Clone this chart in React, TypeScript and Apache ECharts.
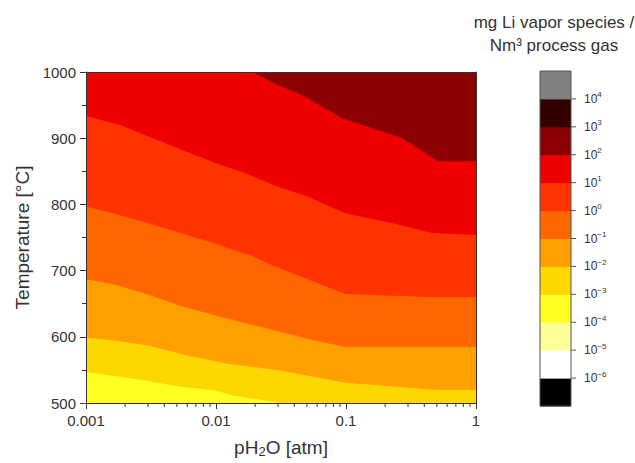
import React, { useEffect, useRef } from 'react';
import * as echarts from 'echarts';

// ---- axes / ticks ----
const xTickLabels = ['0.001', '0.01', '0.1', '1'];
const xMinorTicks = [
  0.002, 0.003, 0.004, 0.005, 0.006, 0.007, 0.008, 0.009,
  0.02, 0.03, 0.04, 0.05, 0.06, 0.07, 0.08, 0.09,
  0.2, 0.3, 0.4, 0.5, 0.6, 0.7, 0.8, 0.9,
];
const tempMin = 500;
const tempMax = 1000;

// ---- colour bar: lower exponent of each band (bottom to top) and its colour ----
const colorbarLower = [-7, -6, -5, -4, -3, -2, -1, 0, 1, 2, 3, 4];
const colorbarColors = [
  '#000000', '#ffffff', '#ffff99', '#ffff22', '#ffd700', '#ffa000',
  '#ff6600', '#ff3300', '#ee0000', '#8b0000', '#330000', '#808080',
];
const colorbarLabelExponents = [-6, -5, -4, -3, -2, -1, 0, 1, 2, 3, 4];

// ---- contour lines [pH2O (atm), T (°C)] ----
// 10^2 contour: dark red above it
const contour1e2 = [[0.0194, 1000], [0.0284, 983], [0.0457, 966], [0.069, 946], [0.093, 931], [0.132, 921], [0.27, 901], [0.51, 866], [1, 866]];
// 10^1 contour: red above, red-orange below
const contour1e1 = [[0.001, 933], [0.0019, 918], [0.0039, 893], [0.0095, 863], [0.017, 846], [0.028, 828], [0.051, 811], [0.098, 786], [0.225, 771], [0.46, 756], [1, 753]];
// 10^0 contour
const contour1e0 = [[0.001, 796], [0.0016, 786], [0.003, 771], [0.0053, 756], [0.0095, 741], [0.019, 721], [0.028, 706], [0.051, 686], [0.098, 664], [0.48, 659], [1, 659]];
// 10^-1 contour
const contour1em1 = [[0.001, 686], [0.0016, 679], [0.0029, 664], [0.0053, 646], [0.011, 629], [0.028, 609], [0.051, 596], [0.098, 584], [1, 584]];
// 10^-2 contour
const contour1em2 = [[0.001, 598], [0.0016, 594], [0.003, 586], [0.0063, 570], [0.0126, 558], [0.03, 549], [0.056, 539], [0.098, 530], [0.5, 519], [1, 519]];
// 10^-3 contour
const contour1em3 = [[0.001, 546], [0.0025, 535], [0.0053, 524], [0.01, 518], [0.013, 511], [0.03, 500]];

const FONT = "'Liberation Sans', Arial, sans-serif";
const TXT = '#333333';

function areaSeries(name: string, data: number[][], color: string, origin: 'start' | 'end') {
  return {
    name,
    type: 'line',
    xAxisIndex: 0,
    yAxisIndex: 0,
    data,
    symbol: 'none',
    silent: true,
    clip: true,
    lineStyle: { width: 1, color },
    areaStyle: { color, opacity: 1, origin },
    z: 2,
  };
}

export default function App() {
  const ref = useRef<HTMLDivElement>(null);
  useEffect(() => {
    if (!ref.current) return;
    const chart = echarts.init(ref.current, undefined, { renderer: 'svg' });
    const option: any = {
      animation: false,
      backgroundColor: '#ffffff',
      textStyle: { fontFamily: FONT },
      grid: [
        { left: 86, top: 72, width: 390, height: 334, show: true, backgroundColor: colorbarColors[8], borderWidth: 0 },
        { left: 540, top: 71, width: 31, height: 335, show: false },
      ],
      graphic: [
        {
          type: 'text',
          x: 554,
          y: 11,
          style: {
            text: 'mg Li vapor species /\nNm³ process gas',
            textAlign: 'center',
            fontSize: 17,
            lineHeight: 23,
            fontFamily: FONT,
            fill: TXT,
          },
        },
      ],
      xAxis: [
        {
          type: 'log',
          logBase: 10,
          gridIndex: 0,
          min: 0.001,
          max: 1,
          z: 10,
          axisLine: { show: true, lineStyle: { color: TXT, width: 1 } },
          axisTick: { show: true, length: 6, inside: false, lineStyle: { color: TXT } },
          axisLabel: {
            fontSize: 15,
            color: TXT,
            margin: 10,
            fontFamily: FONT,
            formatter: (v: number) => xTickLabels[Math.round(Math.log10(v)) + 3] ?? '',
          },
          splitLine: { show: false },
          name: 'pH{sub|2}O [atm]',
          nameLocation: 'middle',
          nameGap: 34,
          nameTextStyle: {
            fontSize: 19,
            color: TXT,
            lineHeight: 21,
            fontFamily: FONT,
            rich: { sub: { fontSize: 13, lineHeight: 13, padding: [8, 0, 0, 0], color: TXT, fontFamily: FONT } },
          },
        },
        {
          type: 'log',
          logBase: 10,
          gridIndex: 0,
          min: 0.001,
          max: 1,
          position: 'top',
          z: 10,
          axisLine: { show: true, lineStyle: { color: TXT, width: 1 } },
          axisTick: { show: false },
          axisLabel: { show: false },
          splitLine: { show: false },
        },
        { type: 'value', gridIndex: 1, min: 0, max: 1, show: false },
      ],
      yAxis: [
        {
          type: 'value',
          gridIndex: 0,
          min: tempMin,
          max: tempMax,
          interval: 100,
          z: 10,
          axisLine: { show: true, lineStyle: { color: TXT, width: 1 } },
          axisTick: { show: true, length: 6, inside: false, lineStyle: { color: TXT } },
          minorTick: { show: true, splitNumber: 2, length: 4, lineStyle: { color: TXT } },
          axisLabel: { fontSize: 15, color: TXT, margin: 10, fontFamily: FONT, formatter: (v: number) => String(v) },
          splitLine: { show: false },
          minorSplitLine: { show: false },
          name: 'Temperature [°C]',
          nameLocation: 'middle',
          nameGap: 52,
          nameTextStyle: { fontSize: 19, color: TXT, fontFamily: FONT },
        },
        {
          type: 'value',
          gridIndex: 0,
          min: tempMin,
          max: tempMax,
          position: 'right',
          z: 10,
          axisLine: { show: true, lineStyle: { color: TXT, width: 1 } },
          axisTick: { show: false },
          axisLabel: { show: false },
          splitLine: { show: false },
        },
        {
          type: 'value',
          gridIndex: 1,
          min: -7,
          max: 5,
          interval: 1,
          position: 'right',
          axisLine: { show: false },
          axisTick: { show: false },
          splitLine: { show: false },
          axisLabel: {
            margin: 13,
            color: TXT,
            fontSize: 12,
            lineHeight: 16,
            fontFamily: FONT,
            formatter: (v: number) => {
              if (!colorbarLabelExponents.includes(v)) return '';
              const e = v < 0 ? '\u2212' + Math.abs(v) : String(v);
              return '10{sup|' + e + '}';
            },
            rich: {
              sup: { fontSize: 8, lineHeight: 8, padding: [0, 0, 8, 0], color: TXT, fontFamily: FONT },
            },
          },
        },
      ],
      series: [
        areaSeries('1e1', contour1e1, colorbarColors[7], 'start'),
        areaSeries('1e0', contour1e0, colorbarColors[6], 'start'),
        areaSeries('1e-1', contour1em1, colorbarColors[5], 'start'),
        areaSeries('1e-2', contour1em2, colorbarColors[4], 'start'),
        areaSeries('1e-3', contour1em3, colorbarColors[3], 'start'),
        areaSeries('1e2', contour1e2, colorbarColors[9], 'end'),
        {
          type: 'custom',
          name: 'xMinorTicks',
          xAxisIndex: 0,
          yAxisIndex: 0,
          silent: true,
          z: 11,
          clip: false,
          data: xMinorTicks.map((v) => [v, tempMin]),
          renderItem: (_p: any, api: any) => {
            const p = api.coord([api.value(0), api.value(1)]);
            return {
              type: 'line',
              shape: { x1: p[0], y1: p[1], x2: p[0], y2: p[1] + 4 },
              style: { stroke: TXT, lineWidth: 1 },
            };
          },
        },
        {
          type: 'custom',
          name: 'colorbar',
          xAxisIndex: 2,
          yAxisIndex: 2,
          silent: true,
          clip: false,
          encode: { x: 0, y: [1, 2] },
          data: colorbarLower.map((lo, i) => [0, lo, lo + 1, i]),
          renderItem: (_p: any, api: any) => {
            const lo = api.value(1);
            const hi = api.value(2);
            const idx = api.value(3);
            const a = api.coord([0, hi]);
            const b = api.coord([1, lo]);
            const children: any[] = [
              {
                type: 'rect',
                shape: { x: a[0], y: a[1], width: b[0] - a[0], height: b[1] - a[1] + 0.5 },
                style: { fill: colorbarColors[idx], stroke: null },
              },
            ];
            if (colorbarLabelExponents.includes(hi)) {
              children.push({
                type: 'line',
                shape: { x1: b[0], y1: a[1], x2: b[0] + 5, y2: a[1] },
                style: { stroke: '#555555', lineWidth: 1 },
              });
            }
            return { type: 'group', children };
          },
        },
        {
          type: 'custom',
          name: 'colorbarFrame',
          xAxisIndex: 2,
          yAxisIndex: 2,
          silent: true,
          clip: false,
          z: 5,
          encode: { x: 0, y: [1, 2] },
          data: [[0, colorbarLower[0], colorbarLower[colorbarLower.length - 1] + 1]],
          renderItem: (_p: any, api: any) => {
            const a = api.coord([0, api.value(2)]);
            const b = api.coord([1, api.value(1)]);
            return {
              type: 'rect',
              shape: { x: a[0], y: a[1], width: b[0] - a[0], height: b[1] - a[1] },
              style: { fill: 'none', stroke: '#555555', lineWidth: 1 },
            };
          },
        },
      ],
    };
    chart.setOption(option);
    return () => chart.dispose();
  }, []);
  return (
    <div
      ref={ref}
      style={{ position: 'fixed', left: 0, top: 0, width: 635, height: 463, background: '#fff' }}
    />
  );
}
